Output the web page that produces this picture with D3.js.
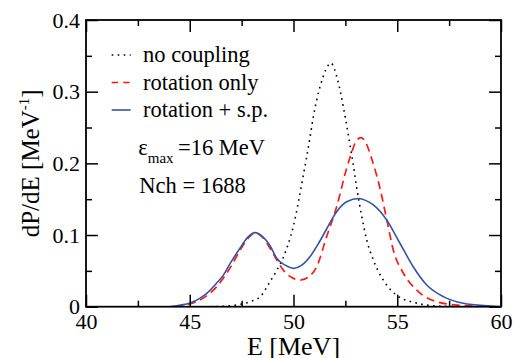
<!DOCTYPE html>
<html>
<head>
<meta charset="utf-8">
<script src="https://cdn.jsdelivr.net/npm/d3@7"></script>
<style>
  body { margin: 0; background: #fff; }
  svg { display: block; }
</style>
</head>
<body>
<svg width="514" height="358"></svg>
<script>
// Axis ticks
const xMajor = [40, 45, 50, 55, 60];
const xMinor = [42.5, 47.5, 52.5, 57.5];
const yMajor = [0, 0.1, 0.2, 0.3, 0.4];
const yMinor = [0.05, 0.15, 0.25, 0.35];

// Series: [E (MeV), dP/dE]
const noCoupling = [
  [46.0, 0], [46.8, 0.001], [47.4, 0.003], [47.9, 0.007], [48.4, 0.014],
  [48.87, 0.035], [49.2, 0.051], [49.51, 0.069], [49.99, 0.112], [50.47, 0.183],
  [50.8, 0.237], [50.95, 0.264], [51.28, 0.307], [51.55, 0.330], [51.8, 0.340],
  [52.13, 0.316], [52.4, 0.279], [52.64, 0.240], [52.88, 0.198], [53.04, 0.167],
  [53.29, 0.126], [53.53, 0.093], [53.85, 0.065], [54.33, 0.037], [54.97, 0.016],
  [55.94, 0.005], [56.9, 0.001], [58.0, 0],
];
const rotationOnly = [
  [44.3, 0], [45.0, 0.004], [45.65, 0.012], [46.3, 0.028], [46.94, 0.054],
  [47.45, 0.080], [47.8, 0.095], [48.15, 0.103], [48.5, 0.097], [48.87, 0.0815],
  [49.2, 0.065], [49.51, 0.051], [49.9, 0.041], [50.31, 0.037], [50.7, 0.041],
  [51.12, 0.056], [51.6, 0.098], [52.08, 0.1395], [52.56, 0.193], [52.8, 0.215],
  [53.0, 0.230], [53.25, 0.236], [53.5, 0.228], [53.75, 0.208], [54.17, 0.165],
  [54.49, 0.122], [54.81, 0.079], [55.29, 0.047], [55.94, 0.023], [56.9, 0.007],
  [58.0, 0.002], [59.5, 0],
];
const rotationSp = [
  [44.0, 0], [44.5, 0.002], [45.01, 0.005], [45.5, 0.012], [45.82, 0.0186],
  [46.3, 0.033], [46.62, 0.044], [46.94, 0.060], [47.42, 0.0815], [47.8, 0.097],
  [48.14, 0.1033], [48.5, 0.098], [48.87, 0.085], [49.19, 0.0675], [49.6, 0.058],
  [49.99, 0.0535], [50.4, 0.058], [50.8, 0.070], [51.2, 0.088], [51.57, 0.107],
  [52.08, 0.1326], [52.56, 0.1465], [53.15, 0.151], [53.5, 0.148], [53.85, 0.142],
  [54.49, 0.121], [55.13, 0.0885], [55.77, 0.0558], [56.42, 0.0303], [57.22, 0.014],
  [58.18, 0.0047], [59.47, 0.001], [60.0, 0],
];

const legendLabels = ['no coupling', 'rotation only', 'rotation + s.p.'];

const svg = d3.select('svg');
const margin = {top: 20, right: 13, bottom: 51.3, left: 86};
const width = +svg.attr('width') - margin.left - margin.right;
const height = +svg.attr('height') - margin.top - margin.bottom;
const serif = 'Times New Roman, Times, Liberation Serif, DejaVu Serif, serif';

svg.style('font-family', serif);

const x = d3.scaleLinear().domain([40, 60]).range([0, width]);
const y = d3.scaleLinear().domain([0, 0.4]).range([height, 0]);

const g = svg.append('g')
    .attr('transform', `translate(${margin.left},${margin.top})`);

g.append('clipPath')
    .attr('id', 'clip')
  .append('rect')
    .attr('width', width)
    .attr('height', height);

// Curves
const line = d3.line()
    .x((d) => x(d[0]))
    .y((d) => y(d[1]))
    .curve(d3.curveMonotoneX);

const series = [
  {data: noCoupling, color: '#000', dash: '1.6,4.4', width: 1.6},
  {data: rotationOnly, color: '#ff1a1a', dash: '8,5', width: 1.7},
  {data: rotationSp, color: '#3454a8', dash: null, width: 1.6},
];

const curves = g.append('g').attr('clip-path', 'url(#clip)');
series.forEach((s) => {
  curves.append('path')
      .datum(s.data)
      .attr('fill', 'none')
      .attr('stroke', s.color)
      .attr('stroke-width', s.width)
      .attr('stroke-dasharray', s.dash)
      .attr('d', line);
});

// Axes: all ticks point inward
const styleAxis = (sel) => {
  sel.attr('font-family', null).style('font-family', serif);
  sel.select('.domain').remove();
  sel.selectAll('line').attr('stroke', '#000').attr('stroke-width', 1.5);
};

g.append('g')
    .attr('transform', `translate(0,${height})`)
    .call(d3.axisBottom(x).tickValues(xMajor).tickSize(-12).tickPadding(7)
      .tickFormat(d3.format('d')))
    .call(styleAxis)
    .call((a) => a.selectAll('text').attr('font-size', 22));
g.append('g')
    .attr('transform', `translate(0,${height})`)
    .call(d3.axisBottom(x).tickValues(xMinor).tickSize(-6).tickFormat(''))
    .call(styleAxis);
g.append('g')
    .call(d3.axisTop(x).tickValues(xMajor).tickSize(-12).tickFormat(''))
    .call(styleAxis);
g.append('g')
    .call(d3.axisTop(x).tickValues(xMinor).tickSize(-6).tickFormat(''))
    .call(styleAxis);

g.append('g')
    .call(d3.axisLeft(y).tickValues(yMajor).tickSize(-12).tickPadding(6)
      .tickFormat((d) => d === 0 ? '0' : d3.format('.1f')(d)))
    .call(styleAxis)
    .call((a) => a.selectAll('text').attr('font-size', 22));
g.append('g')
    .call(d3.axisLeft(y).tickValues(yMinor).tickSize(-6).tickFormat(''))
    .call(styleAxis);
g.append('g')
    .attr('transform', `translate(${width},0)`)
    .call(d3.axisRight(y).tickValues(yMajor).tickSize(-12).tickFormat(''))
    .call(styleAxis);
g.append('g')
    .attr('transform', `translate(${width},0)`)
    .call(d3.axisRight(y).tickValues(yMinor).tickSize(-6).tickFormat(''))
    .call(styleAxis);

// Frame
g.append('rect')
    .attr('width', width)
    .attr('height', height)
    .attr('fill', 'none')
    .attr('stroke', '#000')
    .attr('stroke-width', 1.8);

// Axis titles
svg.append('text')
    .attr('x', margin.left + width / 2)
    .attr('y', 355)
    .attr('text-anchor', 'middle')
    .attr('font-size', 26)
    .text('E [MeV]');

const yTitle = svg.append('text')
    .attr('transform', `translate(39,${margin.top + height / 2}) rotate(-90)`)
    .attr('text-anchor', 'middle')
    .attr('font-size', 25);
yTitle.append('tspan').text('dP/dE [MeV');
yTitle.append('tspan').attr('font-size', 15).attr('dy', -10).text('-1');
yTitle.append('tspan').attr('dy', 10).text(']');

// Legend
const legend = g.append('g');
series.forEach((s, i) => {
  const ly = 35 + i * 27.5;
  legend.append('line')
      .attr('x1', 25.7)
      .attr('x2', 44.7)
      .attr('y1', ly)
      .attr('y2', ly)
      .attr('stroke', s.color)
      .attr('stroke-width', s.width)
      .attr('stroke-dasharray', i === 1 ? '6.5,5' : s.dash);
  legend.append('text')
      .attr('x', 57)
      .attr('y', ly + 7)
      .attr('font-size', 22.5)
      .text(legendLabels[i]);
});

// Annotations
const eps = svg.append('text')
    .attr('x', 138.3)
    .attr('y', 155)
    .attr('font-size', 22.5);
eps.append('tspan').text('ε');
eps.append('tspan').attr('font-size', 15).attr('dy', 8).text('max');
eps.append('tspan').attr('x', 178).attr('dy', -8).text('=16 MeV');

svg.append('text')
    .attr('x', 139.3)
    .attr('y', 193.3)
    .attr('font-size', 22.5)
    .text('Nch = 1688');
</script>
</body>
</html>
